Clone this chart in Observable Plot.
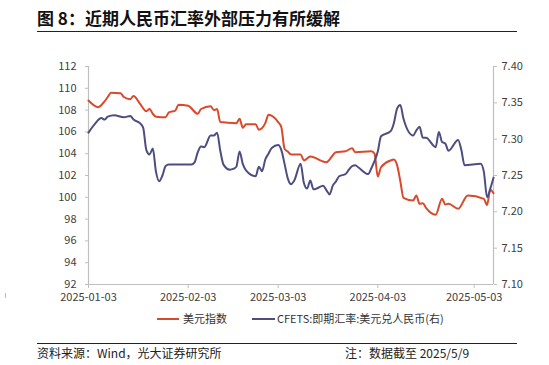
<!DOCTYPE html>
<html>
<head>
<meta charset="utf-8">
<script src="https://cdn.jsdelivr.net/npm/d3@7"></script>
<script src="https://cdn.jsdelivr.net/npm/@observablehq/plot@0.6"></script>
<style>
  html, body { margin: 0; padding: 0; background: #fff; }
  body { width: 549px; height: 365px; position: relative; overflow: hidden; font-family: "Noto Sans CJK SC", "Noto Sans", sans-serif; }
  #title { position: absolute; left: 37px; top: 5px; font-size: 17px; font-weight: bold; color: #111; white-space: nowrap; }
  .hr { position: absolute; left: 37px; width: 480px; height: 0; border-top: 1.2px solid #222; }
  #chart { position: absolute; left: 0; top: 0; }
  #legend { position: absolute; top: 309px; left: 0; width: 549px; height: 18px; font-size: 11px; color: #333; }
  .sw { position: absolute; top: 9px; height: 0; border-top: 2px solid; }
  .lt { position: absolute; top: 0; line-height: 18px; white-space: nowrap; }
  .foot { position: absolute; top: 345px; font-size: 12px; color: #222; white-space: nowrap; line-height: 16px; }
  #mark { position: absolute; left: 5px; top: 293px; width: 1px; height: 5px; background: #bbb; }
</style>
</head>
<body>
<div id="title">图 8：近期人民币汇率外部压力有所缓解</div>
<div class="hr" style="top:31px"></div>
<div id="chart"></div>
<div id="mark"></div>
<div id="legend"></div>
<div class="hr" style="top:343px"></div>
<div class="foot" style="left:37px">资料来源：Wind，光大证券研究所</div>
<div class="foot" style="left:345px">注：数据截至 2025/5/9</div>
<script>
// ---- data ----
const seriesNames = ["美元指数", "CFETS:即期汇率:美元兑人民币(右)"];
const seriesColors = ["#d9492b", "#4e4d7f"];

const usdDates = ["2025-01-03","2025-01-06","2025-01-08","2025-01-09","2025-01-10","2025-01-13","2025-01-14","2025-01-16","2025-01-17","2025-01-19","2025-01-21","2025-01-22","2025-01-23","2025-01-24","2025-01-27","2025-01-28","2025-01-30","2025-01-31","2025-02-03","2025-02-06","2025-02-07","2025-02-10","2025-02-11","2025-02-12","2025-02-13","2025-02-18","2025-02-19","2025-02-20","2025-02-21","2025-02-24","2025-02-25","2025-02-27","2025-02-28","2025-03-03","2025-03-04","2025-03-05","2025-03-06","2025-03-07","2025-03-10","2025-03-11","2025-03-13","2025-03-18","2025-03-21","2025-03-24","2025-03-26","2025-03-27","2025-04-01","2025-04-02","2025-04-03","2025-04-04","2025-04-07","2025-04-08","2025-04-09","2025-04-10","2025-04-11","2025-04-14","2025-04-15","2025-04-16","2025-04-17","2025-04-18","2025-04-21","2025-04-23","2025-04-24","2025-04-25","2025-04-28","2025-05-01","2025-05-06","2025-05-07","2025-05-08","2025-05-09"];
const usdValues = [108.88,108.27,108.8,109.2,109.6,109.55,109.2,109.0,109.3,108.6,107.9,108.1,107.66,107.4,107.35,107.8,107.96,108.5,108.4,107.66,108.1,108.36,108.0,108.1,106.9,106.8,107.2,106.38,106.7,106.7,106.2,106.8,107.57,106.9,106.43,104.45,104.2,103.93,103.93,103.38,103.74,103.22,104.14,104.23,104.5,104.14,104.23,104.0,101.9,102.76,103.38,103.47,102.95,101.5,99.95,99.7,100.17,99.4,99.46,99.03,98.4,99.86,99.34,99.4,98.95,100.17,99.86,99.3,100.7,100.38];

const cnyDates = ["2025-01-03","2025-01-05","2025-01-07","2025-01-08","2025-01-09","2025-01-11","2025-01-14","2025-01-16","2025-01-17","2025-01-19","2025-01-20","2025-01-21","2025-01-22","2025-01-23","2025-01-24","2025-01-25","2025-01-26","2025-01-27","2025-01-28","2025-02-04","2025-02-05","2025-02-06","2025-02-07","2025-02-08","2025-02-10","2025-02-11","2025-02-12","2025-02-13","2025-02-14","2025-02-16","2025-02-17","2025-02-18","2025-02-19","2025-02-20","2025-02-21","2025-02-24","2025-02-25","2025-02-26","2025-02-27","2025-02-28","2025-03-01","2025-03-03","2025-03-04","2025-03-05","2025-03-06","2025-03-07","2025-03-08","2025-03-10","2025-03-11","2025-03-12","2025-03-13","2025-03-14","2025-03-15","2025-03-17","2025-03-18","2025-03-19","2025-03-20","2025-03-21","2025-03-22","2025-03-24","2025-03-25","2025-03-26","2025-03-27","2025-03-28","2025-03-31","2025-04-01","2025-04-02","2025-04-03","2025-04-04","2025-04-07","2025-04-08","2025-04-09","2025-04-10","2025-04-11","2025-04-14","2025-04-15","2025-04-16","2025-04-17","2025-04-18","2025-04-21","2025-04-22","2025-04-23","2025-04-24","2025-04-25","2025-04-28","2025-04-29","2025-04-30","2025-05-05","2025-05-06","2025-05-07","2025-05-08","2025-05-09"];
const cnyValues = [7.309,7.321,7.329,7.327,7.331,7.333,7.330,7.332,7.327,7.322,7.316,7.285,7.279,7.287,7.255,7.242,7.250,7.263,7.265,7.265,7.268,7.282,7.290,7.289,7.305,7.305,7.309,7.284,7.265,7.258,7.259,7.262,7.283,7.266,7.257,7.249,7.262,7.256,7.272,7.280,7.288,7.292,7.285,7.266,7.246,7.238,7.243,7.266,7.240,7.232,7.243,7.231,7.232,7.236,7.230,7.224,7.236,7.242,7.249,7.252,7.258,7.263,7.264,7.261,7.252,7.260,7.270,7.283,7.304,7.311,7.322,7.342,7.347,7.328,7.305,7.312,7.317,7.302,7.302,7.289,7.310,7.296,7.294,7.284,7.299,7.285,7.264,7.266,7.255,7.220,7.232,7.247];

const leftTicks = [92,94,96,98,100,102,104,106,108,110,112];
const rightTicks = [7.10,7.15,7.20,7.25,7.30,7.35,7.40];
const xTickDates = ["2025-01-03","2025-02-03","2025-03-03","2025-04-03","2025-05-03"];
const xDomain = ["2025-01-03","2025-05-09"];
const leftDomain = [92, 112];
const rightDomain = [7.10, 7.40];

// ---- build ----
const toLeft = v => leftDomain[0] + (v - rightDomain[0]) / (rightDomain[1] - rightDomain[0]) * (leftDomain[1] - leftDomain[0]);
const fromLeft = v => rightDomain[0] + (v - leftDomain[0]) / (leftDomain[1] - leftDomain[0]) * (rightDomain[1] - rightDomain[0]);
const usd = usdDates.map((d, i) => ({date: new Date(d), value: usdValues[i]}));
const cny = cnyDates.map((d, i) => ({date: new Date(d), value: toLeft(cnyValues[i])}));
const xd = xDomain.map(d => new Date(d));
const fmt = d3.utcFormat("%Y-%m-%d");
const axisGray = "#bfbfbf";
const textCol = "#404040";

const chart = Plot.plot({
  width: 549,
  height: 305,
  marginTop: 66,
  marginBottom: 21,
  marginLeft: 88,
  marginRight: 56,
  x: {type: "utc", domain: xd},
  y: {domain: leftDomain},
  style: {fontFamily: '"Noto Sans CJK SC", "Noto Sans", sans-serif', fontSize: "11px", background: "transparent", overflow: "visible"},
  marks: [
    Plot.axisY(leftTicks, {anchor: "left", tickSize: 3, tickPadding: 9, stroke: axisGray, fill: textCol, label: null}),
    Plot.axisY(rightTicks.map(toLeft), {anchor: "right", tickSize: 3, tickPadding: 5, stroke: axisGray, fill: textCol, label: null, tickFormat: d => fromLeft(d).toFixed(2)}),
    Plot.axisX(xTickDates.map(d => new Date(d)), {anchor: "bottom", tickSize: 4, tickPadding: 5, stroke: axisGray, fill: textCol, label: null, tickFormat: fmt}),
    Plot.ruleX([xd[0], xd[1]], {stroke: axisGray, strokeWidth: 1.2}),
    Plot.ruleY([leftDomain[0]], {stroke: axisGray, strokeWidth: 1.2}),
    Plot.line(usd, {x: "date", y: "value", stroke: seriesColors[0], strokeWidth: 2, curve: "monotone-x"}),
    Plot.line(cny, {x: "date", y: "value", stroke: seriesColors[1], strokeWidth: 2, curve: "monotone-x"})
  ]
});
document.getElementById("chart").appendChild(chart);

// legend
const legend = document.getElementById("legend");
const legendPos = [{sw: 157, w: 22, t: 183}, {sw: 252, w: 23, t: 277}];
seriesNames.forEach((n, i) => {
  const s = document.createElement("div");
  s.className = "sw";
  s.style.left = legendPos[i].sw + "px";
  s.style.width = legendPos[i].w + "px";
  s.style.borderTopColor = seriesColors[i];
  legend.appendChild(s);
  const t = document.createElement("div");
  t.className = "lt";
  t.style.left = legendPos[i].t + "px";
  t.textContent = n;
  legend.appendChild(t);
});
</script>
</body>
</html>
